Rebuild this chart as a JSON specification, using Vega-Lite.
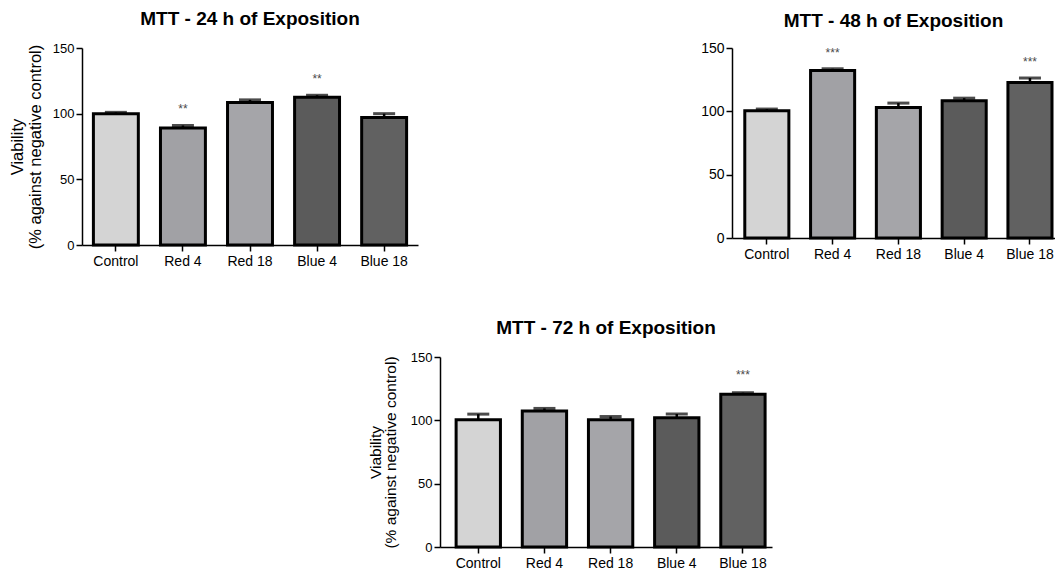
{
  "$schema": "https://vega.github.io/schema/vega-lite/v6.json",
  "padding": {"left": 9, "top": 10, "right": 0, "bottom": 0},
  "background": "white",
  "datasets": {
    "mtt": [
      {"panel": "24h", "group": "Control", "value": 100, "upper": 101, "sig": ""},
      {"panel": "24h", "group": "Red 4", "value": 89, "upper": 91, "sig": "**"},
      {"panel": "24h", "group": "Red 18", "value": 108.5, "upper": 110.5, "sig": ""},
      {"panel": "24h", "group": "Blue 4", "value": 112.5, "upper": 114, "sig": "**"},
      {"panel": "24h", "group": "Blue 18", "value": 97, "upper": 100, "sig": ""},
      {"panel": "48h", "group": "Control", "value": 100.5, "upper": 101.8, "sig": ""},
      {"panel": "48h", "group": "Red 4", "value": 132.3, "upper": 133.6, "sig": "***"},
      {"panel": "48h", "group": "Red 18", "value": 103, "upper": 106.5, "sig": ""},
      {"panel": "48h", "group": "Blue 4", "value": 108.4, "upper": 110.4, "sig": ""},
      {"panel": "48h", "group": "Blue 18", "value": 122.7, "upper": 126.3, "sig": "***"},
      {"panel": "72h", "group": "Control", "value": 100.5, "upper": 104.9, "sig": ""},
      {"panel": "72h", "group": "Red 4", "value": 107.3, "upper": 109.4, "sig": ""},
      {"panel": "72h", "group": "Red 18", "value": 100.5, "upper": 103, "sig": ""},
      {"panel": "72h", "group": "Blue 4", "value": 102, "upper": 105, "sig": ""},
      {"panel": "72h", "group": "Blue 18", "value": 120.5, "upper": 121.8, "sig": "***"}
    ],
    "none": []
  },
  "config": {
    "font": "Liberation Sans",
    "view": {"stroke": null},
    "axis": {
      "grid": false,
      "domainColor": "black",
      "domainWidth": 1.5,
      "tickColor": "black",
      "tickWidth": 1.5,
      "tickSize": 6,
      "labelColor": "black",
      "labelFont": "Liberation Sans",
      "labelFontSize": 13,
      "titleFont": "Liberation Sans",
      "titleColor": "black"
    },
    "title": {"font": "Liberation Sans", "fontSize": 19, "fontWeight": "bold", "color": "black"}
  },
  "vconcat": [
    {
      "hconcat": [
        {
          "width": 336,
          "height": 197,
          "data": {"name": "mtt"},
          "transform": [{"filter": "datum.panel == '24h'"}],
          "title": {"text": "MTT - 24 h of Exposition", "offset": 13},
          "encoding": {
            "x": {
              "field": "group", "type": "nominal",
              "sort": ["Control", "Red 4", "Red 18", "Blue 4", "Blue 18"],
              "scale": {"paddingInner": 0.33, "paddingOuter": 0.17},
              "axis": {"title": null, "labelAngle": 0, "labelPadding": 3, "labelFontSize": 14}
            }
          },
          "layer": [
            {
              "mark": {"type": "bar", "stroke": "black", "strokeWidth": 3},
              "encoding": {
                "y": {
                  "field": "value", "type": "quantitative",
                  "scale": {"domain": [0, 150]},
                  "axis": {
                    "values": [0, 50, 100, 150],
                    "title": ["Viability", "(% against negative control)"],
                    "titleFontSize": 16.5, "titleFontWeight": "normal",
                    "titleLineHeight": 18, "titlePadding": 9
                  }
                },
                "color": {
                  "field": "group", "type": "nominal", "legend": null,
                  "scale": {"domain": ["Control", "Red 4", "Red 18", "Blue 4", "Blue 18"],
                            "range": ["#d4d4d4", "#a1a1a5", "#a5a5a9", "#5b5b5b", "#616161"]}
                }
              }
            },
            {
              "mark": {"type": "rule", "color": "black", "strokeWidth": 2.5},
              "encoding": {
                "y": {"field": "value", "type": "quantitative", "scale": {"domain": [0, 150]}},
                "y2": {"field": "upper"}
              }
            },
            {
              "mark": {"type": "tick", "color": "black", "size": 22, "thickness": 3, "orient": "horizontal"},
              "encoding": {"y": {"field": "upper", "type": "quantitative", "scale": {"domain": [0, 150]}}}
            },
            {
              "mark": {"type": "text", "fontSize": 12, "fill": "#4a4a4a", "dy": -16, "baseline": "middle"},
              "encoding": {
                "y": {"field": "upper", "type": "quantitative", "scale": {"domain": [0, 150]}},
                "text": {"field": "sig"}
              }
            }
          ]
        },
        {
          "width": 323,
          "height": 190,
          "data": {"name": "mtt"},
          "transform": [{"filter": "datum.panel == '48h'"}],
          "title": {"text": "MTT - 48 h of Exposition", "offset": 10},
          "encoding": {
            "x": {
              "field": "group", "type": "nominal",
              "sort": ["Control", "Red 4", "Red 18", "Blue 4", "Blue 18"],
              "scale": {"paddingInner": 0.33, "paddingOuter": 0.12, "align": 0.81},
              "axis": {"title": null, "labelAngle": 0, "labelPadding": 3, "labelFontSize": 14}
            }
          },
          "layer": [
            {
              "mark": {"type": "bar", "stroke": "black", "strokeWidth": 3},
              "encoding": {
                "y": {
                  "field": "value", "type": "quantitative",
                  "scale": {"domain": [0, 150]},
                  "axis": {"values": [0, 50, 100, 150], "title": null, "labelFontSize": 14}
                },
                "color": {
                  "field": "group", "type": "nominal", "legend": null,
                  "scale": {"domain": ["Control", "Red 4", "Red 18", "Blue 4", "Blue 18"],
                            "range": ["#d4d4d4", "#a1a1a5", "#a5a5a9", "#5b5b5b", "#616161"]}
                }
              }
            },
            {
              "mark": {"type": "rule", "color": "black", "strokeWidth": 2.5},
              "encoding": {
                "y": {"field": "value", "type": "quantitative", "scale": {"domain": [0, 150]}},
                "y2": {"field": "upper"}
              }
            },
            {
              "mark": {"type": "tick", "color": "black", "size": 22, "thickness": 3, "orient": "horizontal"},
              "encoding": {"y": {"field": "upper", "type": "quantitative", "scale": {"domain": [0, 150]}}}
            },
            {
              "mark": {"type": "text", "fontSize": 12, "fill": "#4a4a4a", "dy": -16, "baseline": "middle"},
              "encoding": {
                "y": {"field": "upper", "type": "quantitative", "scale": {"domain": [0, 150]}},
                "text": {"field": "sig"}
              }
            }
          ]
        }
      ],
      "spacing": 282
    },
    {
      "hconcat": [
        {
          "width": 286,
          "height": 10,
          "data": {"name": "none"},
          "mark": {"type": "point", "opacity": 0},
          "encoding": {}
        },
        {
          "width": 332,
          "height": 190,
          "data": {"name": "mtt"},
          "transform": [{"filter": "datum.panel == '72h'"}],
          "title": {"text": "MTT - 72 h of Exposition", "offset": 13},
          "encoding": {
            "x": {
              "field": "group", "type": "nominal",
              "sort": ["Control", "Red 4", "Red 18", "Blue 4", "Blue 18"],
              "scale": {"paddingInner": 0.33, "paddingOuter": 0.174, "align": 0.7},
              "axis": {"title": null, "labelAngle": 0, "labelPadding": 3, "labelFontSize": 14}
            }
          },
          "layer": [
            {
              "mark": {"type": "bar", "stroke": "black", "strokeWidth": 3},
              "encoding": {
                "y": {
                  "field": "value", "type": "quantitative",
                  "scale": {"domain": [0, 150]},
                  "axis": {
                    "values": [0, 50, 100, 150],
                    "title": ["Viability", "(% against negative control)"],
                    "titleFontSize": 15.5, "titleFontWeight": "normal",
                    "titleLineHeight": 15, "titlePadding": 12
                  }
                },
                "color": {
                  "field": "group", "type": "nominal", "legend": null,
                  "scale": {"domain": ["Control", "Red 4", "Red 18", "Blue 4", "Blue 18"],
                            "range": ["#d4d4d4", "#a1a1a5", "#a5a5a9", "#5b5b5b", "#616161"]}
                }
              }
            },
            {
              "mark": {"type": "rule", "color": "black", "strokeWidth": 2.5},
              "encoding": {
                "y": {"field": "value", "type": "quantitative", "scale": {"domain": [0, 150]}},
                "y2": {"field": "upper"}
              }
            },
            {
              "mark": {"type": "tick", "color": "black", "size": 22, "thickness": 3, "orient": "horizontal"},
              "encoding": {"y": {"field": "upper", "type": "quantitative", "scale": {"domain": [0, 150]}}}
            },
            {
              "mark": {"type": "text", "fontSize": 12, "fill": "#4a4a4a", "dy": -18, "baseline": "middle"},
              "encoding": {
                "y": {"field": "upper", "type": "quantitative", "scale": {"domain": [0, 150]}},
                "text": {"field": "sig"}
              }
            }
          ]
        }
      ],
      "spacing": 0
    }
  ],
  "spacing": 51
}
